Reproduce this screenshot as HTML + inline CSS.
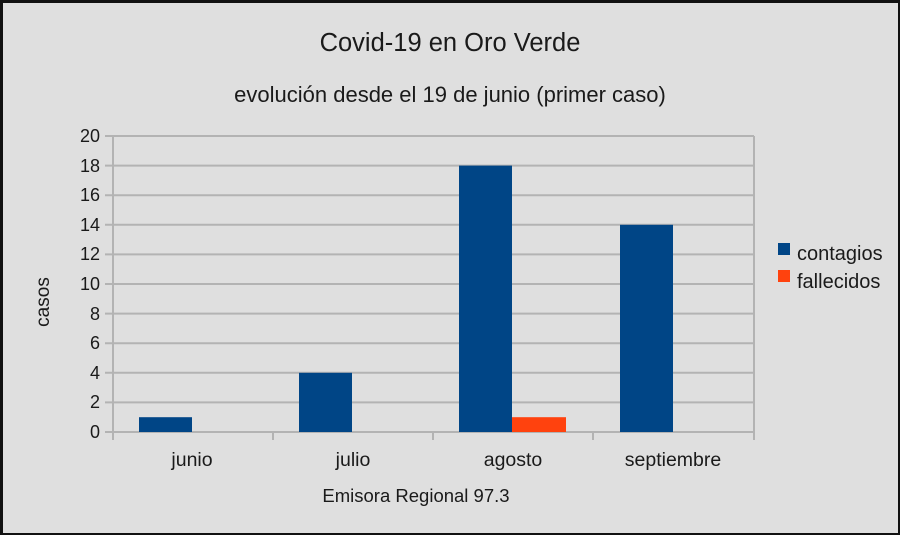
<!DOCTYPE html>
<html><head><meta charset="utf-8"><style>
html,body{margin:0;padding:0;background:#000}
svg{display:block}
text{font-family:"Liberation Sans",sans-serif;fill:#1a1a1a}
</style></head><body>
<svg width="900" height="535" viewBox="0 0 900 535" xmlns="http://www.w3.org/2000/svg">
<rect x="0" y="0" width="900" height="535" fill="#111"/>
<rect x="3" y="3" width="895" height="530" fill="#dfdfdf"/>
<text x="450" y="51" font-size="25.5" text-anchor="middle">Covid-19 en Oro Verde</text>
<text x="450" y="102" font-size="22" text-anchor="middle">evolución desde el 19 de junio (primer caso)</text>
<g stroke="#b3b3b3" stroke-width="2">
<line x1="105" y1="136" x2="754" y2="136"/>
<line x1="105" y1="165.6" x2="754" y2="165.6"/>
<line x1="105" y1="195.2" x2="754" y2="195.2"/>
<line x1="105" y1="224.8" x2="754" y2="224.8"/>
<line x1="105" y1="254.4" x2="754" y2="254.4"/>
<line x1="105" y1="284" x2="754" y2="284"/>
<line x1="105" y1="313.6" x2="754" y2="313.6"/>
<line x1="105" y1="343.2" x2="754" y2="343.2"/>
<line x1="105" y1="372.8" x2="754" y2="372.8"/>
<line x1="105" y1="402.4" x2="754" y2="402.4"/>
<line x1="105" y1="432" x2="754" y2="432"/>
<line x1="113" y1="136" x2="113" y2="440"/>
<line x1="754" y1="136" x2="754" y2="440"/>
<line x1="273" y1="432" x2="273" y2="440"/>
<line x1="433" y1="432" x2="433" y2="440"/>
<line x1="593" y1="432" x2="593" y2="440"/>
</g>
<g font-size="18" text-anchor="end">
<text x="100" y="142">20</text><text x="100" y="172">18</text><text x="100" y="201">16</text>
<text x="100" y="231">14</text><text x="100" y="260">12</text><text x="100" y="290">10</text>
<text x="100" y="320">8</text><text x="100" y="349">6</text><text x="100" y="379">4</text>
<text x="100" y="408">2</text><text x="100" y="438">0</text>
</g>
<g fill="#004586">
<rect x="139" y="417.2" width="53" height="14.8"/>
<rect x="299" y="372.8" width="53" height="59.2"/>
<rect x="459" y="165.6" width="53" height="266.4"/>
<rect x="620" y="224.8" width="53" height="207.2"/>
</g>
<rect x="512" y="417.2" width="54" height="14.8" fill="#ff420e"/>
<g font-size="19.5" text-anchor="middle">
<text x="192" y="466">junio</text><text x="353" y="466">julio</text>
<text x="513" y="466">agosto</text><text x="673" y="466">septiembre</text>
</g>
<text x="416" y="502" font-size="18.5" text-anchor="middle">Emisora Regional 97.3</text>
<text transform="translate(49,302) rotate(-90)" font-size="19" text-anchor="middle">casos</text>
<rect x="778" y="243" width="12" height="12" fill="#004586"/>
<rect x="778" y="270" width="12" height="12" fill="#ff420e"/>
<text x="797" y="260" font-size="20">contagios</text>
<text x="797" y="288" font-size="20">fallecidos</text>
</svg>
</body></html>
